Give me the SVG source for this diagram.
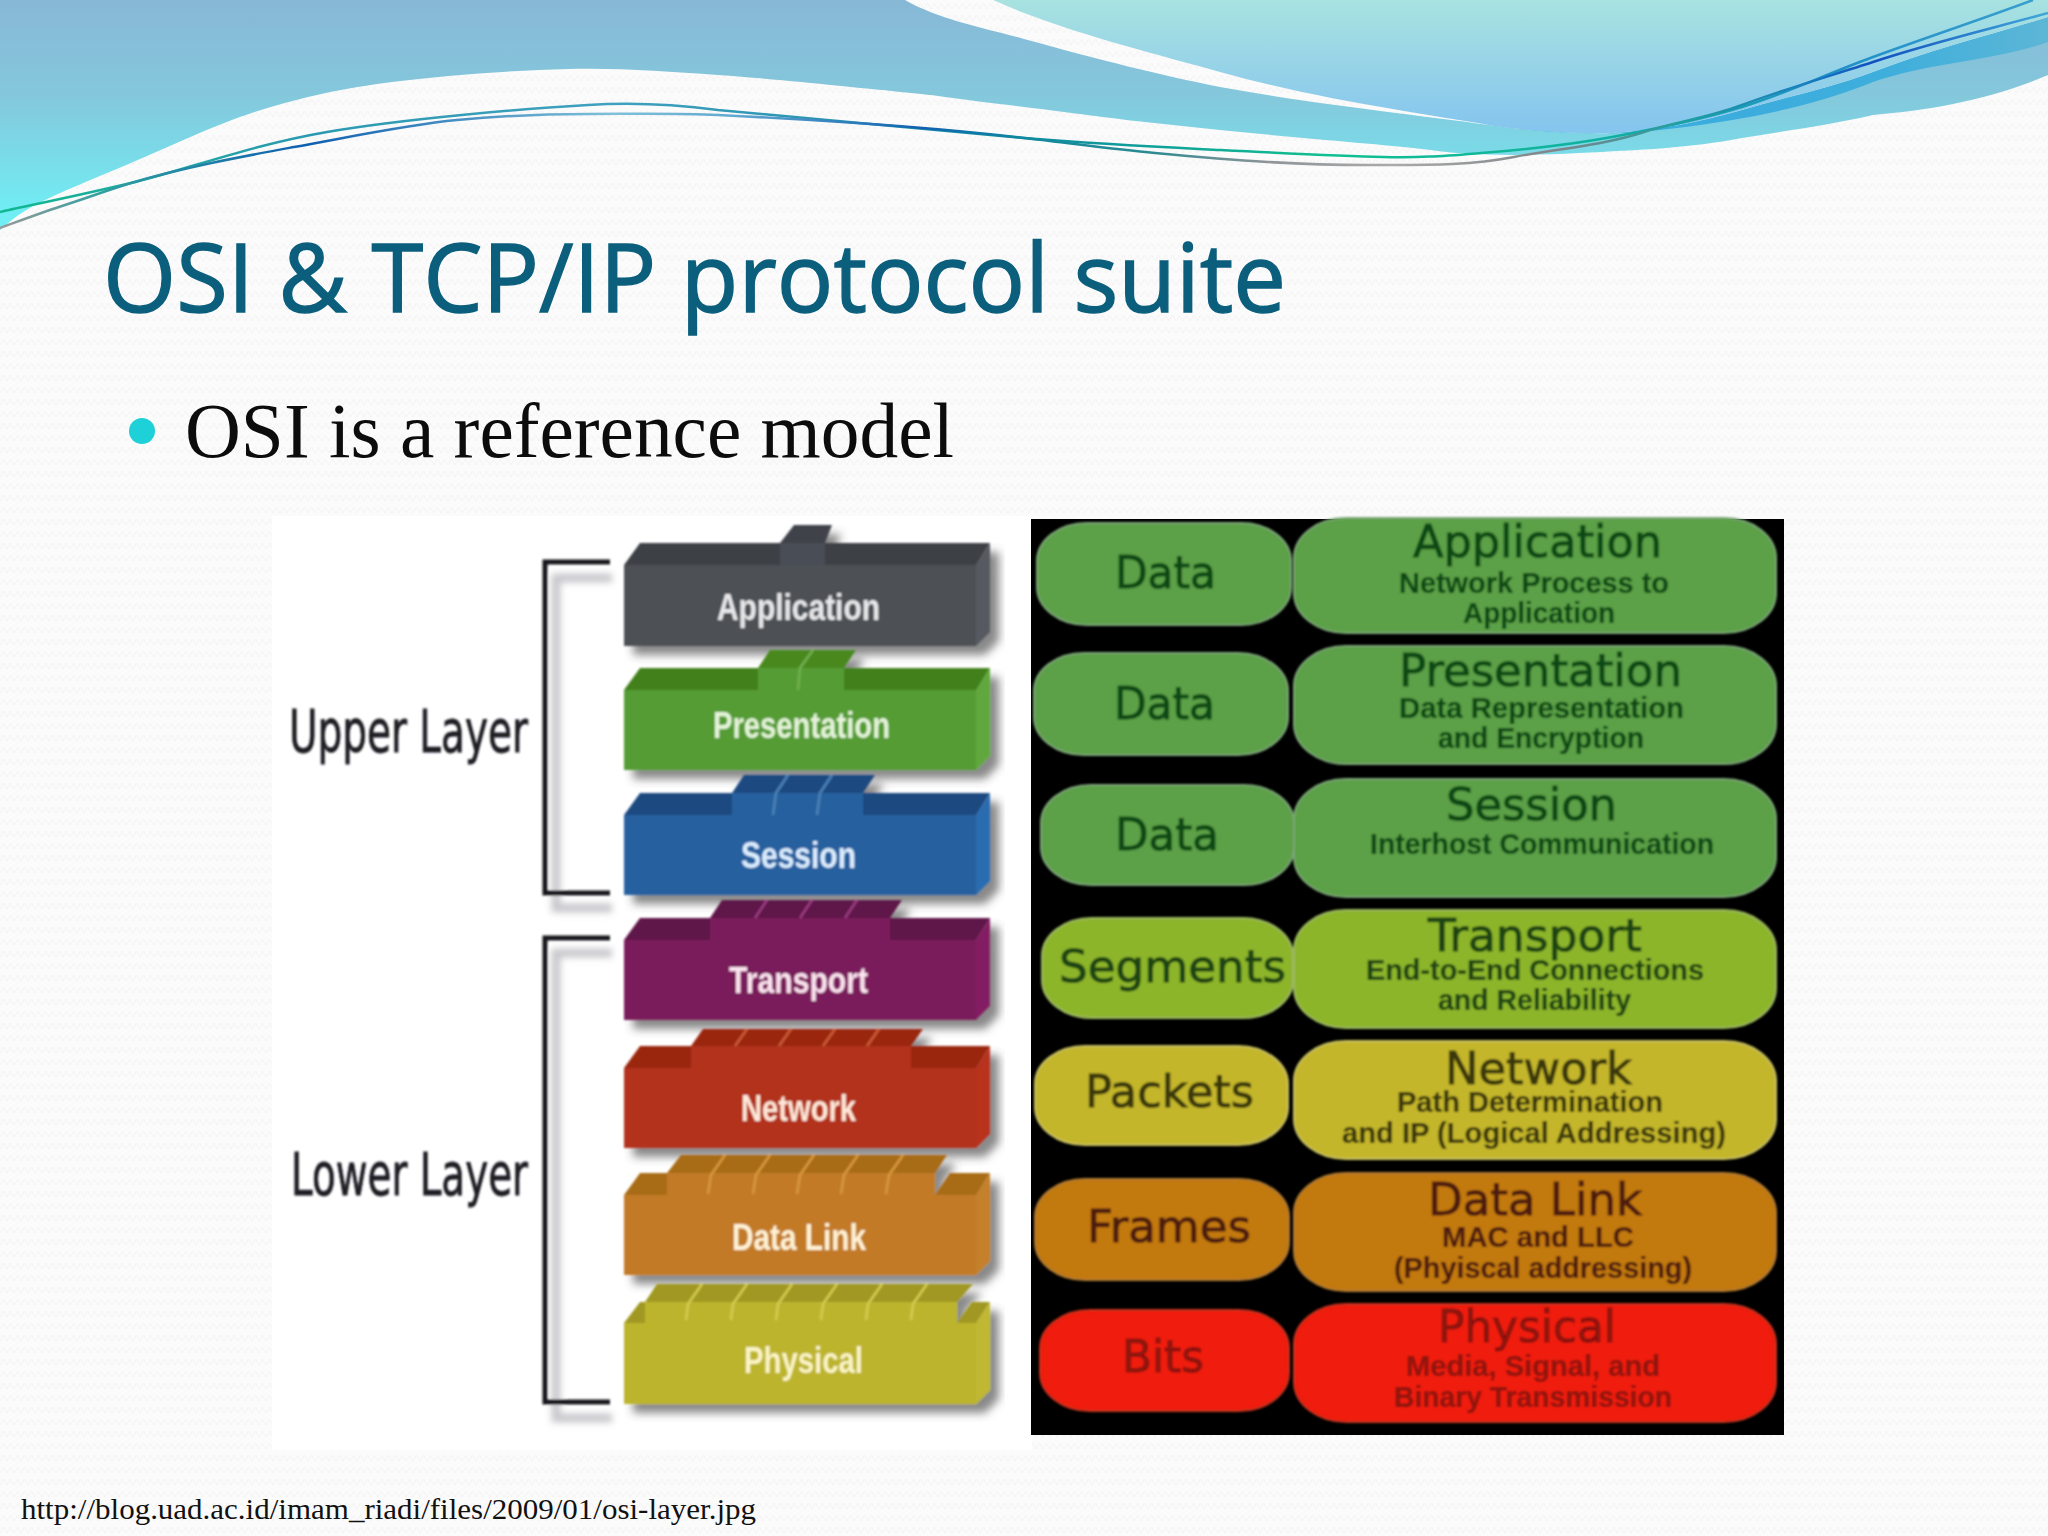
<svg xmlns="http://www.w3.org/2000/svg" width="2048" height="1536" viewBox="0 0 2048 1536">
<defs>
<pattern id="weave" patternUnits="userSpaceOnUse" width="14" height="12"><path d="M0,9 L3.5,3 L7,9 L10.5,3 L14,9" fill="none" stroke="#f3f3f4" stroke-width="1"/></pattern>
<linearGradient id="gBlue" gradientUnits="userSpaceOnUse" x1="0" y1="0" x2="0" y2="215"><stop offset="0" stop-color="#87b8d6"/><stop offset="0.45" stop-color="#84c8dc"/><stop offset="1" stop-color="#70eef4"/></linearGradient>
<linearGradient id="gTeal" gradientUnits="userSpaceOnUse" x1="0" y1="0" x2="0" y2="130"><stop offset="0" stop-color="#a8e2e0"/><stop offset="1" stop-color="#85c5ee"/></linearGradient>
<linearGradient id="gBand" gradientUnits="userSpaceOnUse" x1="1500" y1="0" x2="2048" y2="0"><stop offset="0" stop-color="#36aade"/><stop offset="0.7" stop-color="#3eaedc"/><stop offset="1" stop-color="#5cb6d6"/></linearGradient>
<linearGradient id="gA" gradientUnits="userSpaceOnUse" x1="0" y1="0" x2="2048" y2="0"><stop offset="0" stop-color="#10b890"/><stop offset="0.15" stop-color="#2a9ab0"/><stop offset="0.3" stop-color="#40a0c0"/><stop offset="0.5" stop-color="#0f8aa0"/><stop offset="0.65" stop-color="#10c090"/><stop offset="0.78" stop-color="#10b0a0"/><stop offset="0.9" stop-color="#2090c8"/><stop offset="1" stop-color="#3aa0d0"/></linearGradient>
<linearGradient id="gB" gradientUnits="userSpaceOnUse" x1="0" y1="0" x2="2048" y2="0"><stop offset="0" stop-color="#999"/><stop offset="0.05" stop-color="#30a0a0"/><stop offset="0.15" stop-color="#1060b0"/><stop offset="0.3" stop-color="#80c0d8"/><stop offset="0.36" stop-color="#60a8d0"/><stop offset="0.45" stop-color="#1060b0"/><stop offset="0.5" stop-color="#0f8aa0"/><stop offset="0.56" stop-color="#2a8a90"/><stop offset="0.62" stop-color="#909498"/><stop offset="0.68" stop-color="#aaa"/><stop offset="0.76" stop-color="#808488"/><stop offset="0.82" stop-color="#20a0a0"/><stop offset="0.88" stop-color="#1a80c0"/><stop offset="0.915" stop-color="#1050c0"/><stop offset="1" stop-color="#40a8d8"/></linearGradient>
<filter id="soft" x="-2%" y="-2%" width="104%" height="104%"><feGaussianBlur stdDeviation="0.9"/></filter>
<filter id="blur6" x="-20%" y="-20%" width="140%" height="140%"><feGaussianBlur stdDeviation="3"/></filter>
<filter id="sh" x="-5%" y="-10%" width="112%" height="125%"><feDropShadow dx="9" dy="9" stdDeviation="4" flood-color="#4a4a4a" flood-opacity="0.65"/></filter>
</defs>
<style>
.sep{fill:none;stroke-width:2.5}
.br{fill:none;stroke:#15151a;stroke-width:5}
.brs{fill:none;stroke:#c8c8cc;stroke-width:9}
.ll{font-family:"Liberation Sans",Arial,sans-serif;font-weight:700;font-size:36px;text-anchor:start}
.side{font-family:"DejaVu Sans",sans-serif;font-size:58px;fill:#1c1c22;stroke:#1c1c22;stroke-width:.8}
.big{font-family:"DejaVu Sans",sans-serif;font-size:45px;stroke-width:1}
.sm{font-family:"Liberation Sans",Arial,sans-serif;font-size:30px;font-weight:700}
.pg{fill:#5ba046;stroke:#7ca676;stroke-width:2}.tg{fill:#0e4a14;stroke:#0e4a14}
.ps{fill:#8db52a;stroke:#9cb860;stroke-width:2}.ts{fill:#1e4412;stroke:#1e4412}
.py{fill:#c4b62a;stroke:#c8c060;stroke-width:2}.ty{fill:#3a3810;stroke:#3a3810}
.po{fill:#c2790f;stroke:#b07a30;stroke-width:2}.to{fill:#4e1c08;stroke:#4e1c08}
.pr{fill:#f01c08;stroke:#c03020;stroke-width:2}.tr{fill:#8c1210;stroke:#8c1210}
.sm{stroke-width:.2}
</style>
<rect id="background" width="2048" height="1536" fill="#fbfbfb"/>
<rect id="background-weave" width="2048" height="1536" fill="url(#weave)"/>
<g id="header">
<path d="M0,0 H905 C940,20 985,28 1024,39 C1100,60 1160,75 1220,87 C1320,105 1420,115 1504,127 C1540,131 1580,134 1612,133 C1660,130 1700,122 1742,110 C1790,96 1830,88 1873,72 C1930,50 1990,35 2048,17 V75 C1990,100 1930,110 1873,115 C1830,125 1790,130 1742,138 C1690,148 1640,150 1579,153 C1540,155 1500,156 1462,153 C1450,153 1440,151 1422,149 C1380,144 1293,137.7 1220,130 L1147,122.3 C1100,117 1080,113.7 1024,107 C1000,104 968,100.3 933,95.3 C900,92 882,90 882,90 C860,88 790,80 718,75 C666,71.5 622,67.8 568,69 C514,70.2 443,75.2 392,82 C341,88.8 304.5,96.5 261,110 C217.5,123.5 168,147.5 131,163 C94,178.5 61,192 39,203 C17,214 6,225 0,230 Z" fill="url(#gBlue)"/>
<path d="M1504,127 C1540,131 1580,134 1612,133 C1660,130 1700,122 1742,110 C1790,96 1830,88 1873,72 C1930,50 1990,35 2048,17 V42 C1990,62 1930,62 1873,82 C1810,108 1740,120 1677,128 C1620,136 1560,134 1504,127 Z" fill="url(#gBand)"/>
<path d="M993,0 C1003,4 1014,9 1024,13 C1090,38 1160,55 1220,72 C1320,100 1420,113 1494,126 C1530,131 1575,134 1612,133 C1660,130 1700,122 1742,110 C1790,96 1830,88 1873,72 C1930,50 1990,35 2048,17 V0 Z" fill="url(#gTeal)"/>
<path d="M0,212 C22,207 76,196 131,183 C186,169.7 251,145 327,132 C403,119 523,108.7 588,105 C630,102 680,105 718,110 C800,117 940,131 1024,138 C1108,144.7 1160,147 1220,150 C1280,153 1340,156 1383,157 C1420,158 1443,156 1481,153 C1519,150 1569,145 1612,137 C1655,129 1699,120 1742,107 C1785,94 1824,75 1873,57 C1922,39 1985,18 2033,0" fill="none" stroke="url(#gA)" stroke-width="2.5"/>
<path d="M0,228 C22,220 43,212 65,205 C87,198 108,190 131,183 C185,167 240,157 294,147 C350,137 405,125 457,120 C500,116 545,114 588,114 C632,114 675,113 718,115 C820,120 940,128 1024,138 C1070,143 1110,149 1155,153 C1230,160 1305,166 1383,165 C1430,165 1470,165.4 1514,157 C1558,148.6 1605,145 1644,132 C1678,121 1708,118 1742,105 C1785,89 1830,76 1873,62 C1930,43 1990,29 2048,13" fill="none" stroke="url(#gB)" stroke-width="2.5"/>
</g>
<text id="title" x="103" y="312" font-family="'Open Sans','Noto Sans',sans-serif" font-size="96" fill="#0b5f7c" stroke="#0b5f7c" stroke-width="1.4" textLength="1183" lengthAdjust="spacingAndGlyphs">OSI &amp; TCP/IP protocol suite</text>
<g id="bullet">
<circle cx="142" cy="431" r="13" fill="#1ed0d8"/>
<text x="185" y="457" font-family="'Liberation Serif',serif" font-size="78" fill="#0c0c0c" textLength="769" lengthAdjust="spacingAndGlyphs">OSI is a reference model</text>
</g>
<rect id="left-panel" x="272" y="516" width="760" height="934" fill="#ffffff"/>
<g filter="url(#soft)">
<g id="brackets">
<path class="brs" filter="url(#blur6)" d="M612,578 H556 V908 H612 M612,953 H556 V1418 H612"/>
<path class="br" d="M610,562 H545 V893 H610"/>
<path class="br" d="M610,938 H545 V1402 H610"/>
</g>
<text id="upper-layer" class="side" x="289" y="752" textLength="239" lengthAdjust="spacingAndGlyphs">Upper Layer</text>
<text id="lower-layer" class="side" x="291" y="1195" textLength="237" lengthAdjust="spacingAndGlyphs">Lower Layer</text>

<g id="block-application">
<g filter="url(#sh)">
<polygon points="624,565 640,543 990,543 976,565" fill="#3c4045"/>
<polygon points="780,543 794,525 832,525 825,543" fill="#3f4349"/>
<rect x="780" y="543" width="45" height="22" fill="#4a4e54"/>
<polygon points="976,565 990,543 990,632 976,646" fill="#565a60"/>
<rect x="624" y="565" width="352" height="81" fill="#4d5157"/>
</g>
<text class="ll" x="717" y="620" fill="#e8e8ea" textLength="163" lengthAdjust="spacingAndGlyphs">Application</text>
</g>

<g id="block-presentation">
<g filter="url(#sh)">
<polygon points="624,690 640,668 990,668 976,690" fill="#43801f"/>
<polygon points="758,668 770,650 856,650 844,668" fill="#48881f"/>
<rect x="758" y="668" width="86" height="22" fill="#559c34"/>
<polygon points="976,690 990,668 990,756 976,770" fill="#60a83c"/>
<rect x="624" y="690" width="352" height="80" fill="#559c34"/>
<path class="sep" stroke="#72b050" d="M813,650 L800,668 L798,690"/>
</g>
<text class="ll" x="713" y="738" fill="#e4f4d8" textLength="177" lengthAdjust="spacingAndGlyphs">Presentation</text>
</g>

<g id="block-session">
<g filter="url(#sh)">
<polygon points="624,815 640,793 990,793 976,815" fill="#1e4a80"/>
<polygon points="732,793 744,775 875,775 863,793" fill="#1e4a80"/>
<rect x="732" y="793" width="131" height="22" fill="#28609f"/>
<polygon points="976,815 990,793 990,881 976,895" fill="#2a6cb0"/>
<rect x="624" y="815" width="352" height="80" fill="#28609f"/>
<path class="sep" stroke="#4c82b8" d="M788,775 L776,793 L773,815 M832,775 L820,793 L817,815"/>
</g>
<text class="ll" x="741" y="868" fill="#dceeff" textLength="115" lengthAdjust="spacingAndGlyphs">Session</text>
</g>

<g id="block-transport">
<g filter="url(#sh)">
<polygon points="624,940 640,918 990,918 976,940" fill="#5f1248"/>
<polygon points="710,918 722,900 902,900 890,918" fill="#5f1248"/>
<rect x="710" y="918" width="180" height="22" fill="#7a1a5c"/>
<polygon points="976,940 990,918 990,1006 976,1020" fill="#841e64"/>
<rect x="624" y="940" width="352" height="80" fill="#7a1a5c"/>
<path class="sep" stroke="#9a3c80" d="M767,900 L755,918 M812,900 L800,918 M857,900 L845,918"/>
</g>
<text class="ll" x="729" y="993" fill="#fbe4f0" textLength="139" lengthAdjust="spacingAndGlyphs">Transport</text>
</g>

<g id="block-network">
<g filter="url(#sh)">
<polygon points="624,1068 640,1046 990,1046 976,1068" fill="#9a2810"/>
<polygon points="691,1046 703,1029 923,1029 911,1046" fill="#9a2810"/>
<rect x="691" y="1046" width="220" height="22" fill="#b2301e"/>
<polygon points="976,1068 990,1046 990,1134 976,1148" fill="#b8301c"/>
<rect x="624" y="1068" width="352" height="80" fill="#b2301e"/>
<path class="sep" stroke="#cc5a38" d="M747,1029 L735,1046 M791,1029 L779,1046 M835,1029 L823,1046 M879,1029 L867,1046"/>
</g>
<text class="ll" x="741" y="1121" fill="#ffe8d8" textLength="115" lengthAdjust="spacingAndGlyphs">Network</text>
</g>

<g id="block-data-link">
<g filter="url(#sh)">
<polygon points="624,1195 640,1173 667,1173 667,1195" fill="#a86c18"/>
<polygon points="935,1195 950,1173 990,1173 976,1195" fill="#a86c18"/>
<polygon points="667,1173 681,1155 947,1155 935,1173" fill="#a86c18"/>
<rect x="667" y="1173" width="268" height="22" fill="#c27a28"/>
<polygon points="976,1195 990,1173 990,1261 976,1275" fill="#c4802c"/>
<rect x="624" y="1195" width="352" height="80" fill="#c27a28"/>
<path class="sep" stroke="#d8983e" d="M725,1155 L711,1175 L708,1194 M770,1155 L756,1175 L753,1194 M814,1155 L800,1175 L797,1194 M858,1155 L844,1175 L841,1194 M903,1155 L889,1175 L886,1194"/>
</g>
<text class="ll" x="732" y="1250" fill="#fff2d4" textLength="134" lengthAdjust="spacingAndGlyphs">Data Link</text>
</g>

<g id="block-physical">
<g filter="url(#sh)">
<polygon points="624,1323 640,1302 645,1302 645,1323" fill="#a09820"/>
<polygon points="957,1323 972,1302 990,1302 976,1323" fill="#a09820"/>
<polygon points="645,1302 657,1284 973,1284 957,1302" fill="#a09820"/>
<rect x="645" y="1302" width="312" height="21" fill="#bdb42e"/>
<polygon points="976,1323 990,1302 990,1390 976,1404" fill="#c0b830"/>
<rect x="624" y="1323" width="352" height="81" fill="#bdb42e"/>
<path class="sep" stroke="#d4cc50" d="M702,1284 L688,1304 L686,1320 M747,1284 L733,1304 L731,1320 M792,1284 L778,1304 L776,1320 M837,1284 L823,1304 L821,1320 M882,1284 L868,1304 L866,1320 M927,1284 L913,1304 L911,1320"/>
</g>
<text class="ll" x="744" y="1373" fill="#fbf4c4" textLength="119" lengthAdjust="spacingAndGlyphs">Physical</text>
</g>
</g>

<rect id="right-panel" x="1031" y="519" width="753" height="916" fill="#000000"/>
<g filter="url(#soft)">
<g id="pdu-data-1"><rect class="pg" x="1037" y="523" width="254" height="102" rx="50" ry="38"/><text class="big tg" x="1115" y="588" textLength="101" lengthAdjust="spacingAndGlyphs">Data</text></g>
<g id="pdu-data-2"><rect class="pg" x="1034" y="653" width="254" height="102" rx="50" ry="38"/><text class="big tg" x="1114" y="719" textLength="101" lengthAdjust="spacingAndGlyphs">Data</text></g>
<g id="pdu-data-3"><rect class="pg" x="1041" y="785" width="253" height="100" rx="50" ry="38"/><text class="big tg" x="1115" y="850" textLength="104" lengthAdjust="spacingAndGlyphs">Data</text></g>
<g id="pdu-segments"><rect class="ps" x="1042" y="918" width="251" height="100" rx="50" ry="38"/><text class="big ts" x="1059" y="982" textLength="227" lengthAdjust="spacingAndGlyphs">Segments</text></g>
<g id="pdu-packets"><rect class="py" x="1035" y="1046" width="253" height="99" rx="50" ry="38"/><text class="big ty" x="1085" y="1107" textLength="169" lengthAdjust="spacingAndGlyphs">Packets</text></g>
<g id="pdu-frames"><rect class="po" x="1035" y="1179" width="254" height="101" rx="50" ry="38"/><text class="big to" x="1087" y="1242" textLength="164" lengthAdjust="spacingAndGlyphs">Frames</text></g>
<g id="pdu-bits"><rect class="pr" x="1040" y="1310" width="249" height="101" rx="50" ry="38"/><text class="big tr" x="1122" y="1372" textLength="82" lengthAdjust="spacingAndGlyphs">Bits</text></g>

<g id="layer-application"><rect class="pg" x="1294" y="518" width="482" height="115" rx="52" ry="40"/>
<text class="big tg" x="1413" y="557" textLength="249" lengthAdjust="spacingAndGlyphs">Application</text>
<text class="sm tg" x="1399" y="593" textLength="270" lengthAdjust="spacingAndGlyphs">Network Process to</text>
<text class="sm tg" x="1463" y="623" textLength="152" lengthAdjust="spacingAndGlyphs">Application</text></g>
<g id="layer-presentation"><rect class="pg" x="1294" y="646" width="482" height="118" rx="52" ry="40"/>
<text class="big tg" x="1399" y="686" textLength="283" lengthAdjust="spacingAndGlyphs">Presentation</text>
<text class="sm tg" x="1399" y="718" textLength="285" lengthAdjust="spacingAndGlyphs">Data Representation</text>
<text class="sm tg" x="1438" y="748" textLength="206" lengthAdjust="spacingAndGlyphs">and Encryption</text></g>
<g id="layer-session"><rect class="pg" x="1294" y="779" width="482" height="118" rx="52" ry="40"/>
<text class="big tg" x="1446" y="820" textLength="171" lengthAdjust="spacingAndGlyphs">Session</text>
<text class="sm tg" x="1370" y="854" textLength="344" lengthAdjust="spacingAndGlyphs">Interhost Communication</text></g>
<g id="layer-transport"><rect class="ps" x="1294" y="910" width="482" height="118" rx="52" ry="40"/>
<text class="big ts" x="1428" y="951" textLength="214" lengthAdjust="spacingAndGlyphs">Transport</text>
<text class="sm ts" x="1366" y="980" textLength="338" lengthAdjust="spacingAndGlyphs">End-to-End Connections</text>
<text class="sm ts" x="1438" y="1010" textLength="193" lengthAdjust="spacingAndGlyphs">and Reliability</text></g>
<g id="layer-network"><rect class="py" x="1294" y="1041" width="482" height="118" rx="52" ry="40"/>
<text class="big ty" x="1445" y="1084" textLength="187" lengthAdjust="spacingAndGlyphs">Network</text>
<text class="sm ty" x="1397" y="1112" textLength="266" lengthAdjust="spacingAndGlyphs">Path Determination</text>
<text class="sm ty" x="1342" y="1143" textLength="384" lengthAdjust="spacingAndGlyphs">and IP (Logical Addressing)</text></g>
<g id="layer-data-link"><rect class="po" x="1294" y="1173" width="482" height="118" rx="52" ry="40"/>
<text class="big to" x="1428" y="1215" textLength="214" lengthAdjust="spacingAndGlyphs">Data Link</text>
<text class="sm to" x="1442" y="1247" textLength="192" lengthAdjust="spacingAndGlyphs">MAC and LLC</text>
<text class="sm to" x="1394" y="1278" textLength="298" lengthAdjust="spacingAndGlyphs">(Phyiscal addressing)</text></g>
<g id="layer-physical"><rect class="pr" x="1294" y="1304" width="482" height="118" rx="52" ry="40"/>
<text class="big tr" x="1438" y="1342" textLength="178" lengthAdjust="spacingAndGlyphs">Physical</text>
<text class="sm tr" x="1406" y="1376" textLength="254" lengthAdjust="spacingAndGlyphs">Media, Signal, and</text>
<text class="sm tr" x="1394" y="1407" textLength="278" lengthAdjust="spacingAndGlyphs">Binary Transmission</text></g>
</g>
<text id="source-url" x="21" y="1519" font-family="'Liberation Serif',serif" font-size="30" fill="#111" textLength="735" lengthAdjust="spacingAndGlyphs">http://blog.uad.ac.id/imam_riadi/files/2009/01/osi-layer.jpg</text>
</svg>
